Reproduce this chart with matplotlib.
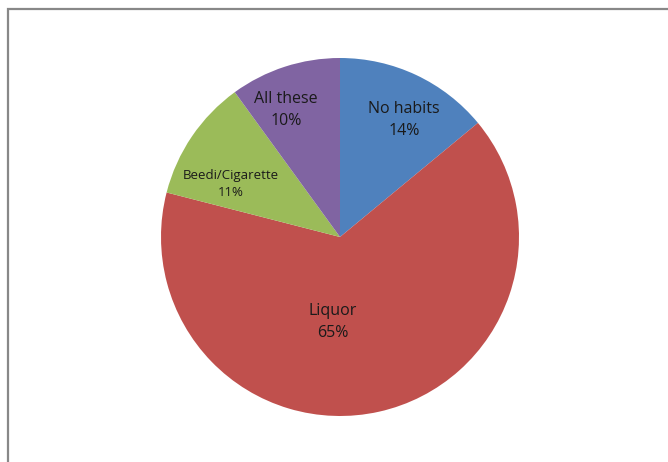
import matplotlib.pyplot as plt
from matplotlib.patches import Rectangle

# ========== Data ==========
categories = ["No habits", "Liquor", "Beedi/Cigarette", "All these"]
shares = [14, 65, 11, 10]
colors = ["#4F81BD", "#C0504D", "#9BBB59", "#8064A2"]

# label placement (pixel coords, y from top) and font sizes
label_pos = [(404, 120), (333, 322), (231, 184), (286, 110)]
label_size = [11.5, 11.5, 9.5, 11.5]

W, H = 668, 462
CX, CY, R = 340, 237, 179

fig = plt.figure(figsize=(W / 100, H / 100), dpi=100)
ax = fig.add_axes([0, 0, 1, 1])

ax.pie(shares, colors=colors, startangle=90, counterclock=False,
       center=(CX, H - CY), radius=R, frame=True,
       wedgeprops=dict(linewidth=0))

for name, val, (x, y), fs in zip(categories, shares, label_pos, label_size):
    ax.text(x, H - y, f"{name}\n{val}%", ha="center", va="center",
            fontsize=fs, family="Open Sans", color="#1a1a1a", linespacing=1.45)

# chart area border (top + left visible, rest cut off)
ax.add_patch(Rectangle((8, -20), W + 40, H - 9 + 20, fill=False,
                       edgecolor="#888888", linewidth=1.6))

ax.set_xlim(0, W)
ax.set_ylim(0, H)
ax.set_aspect("equal")
ax.axis("off")

fig.savefig("out.png", dpi=100)
